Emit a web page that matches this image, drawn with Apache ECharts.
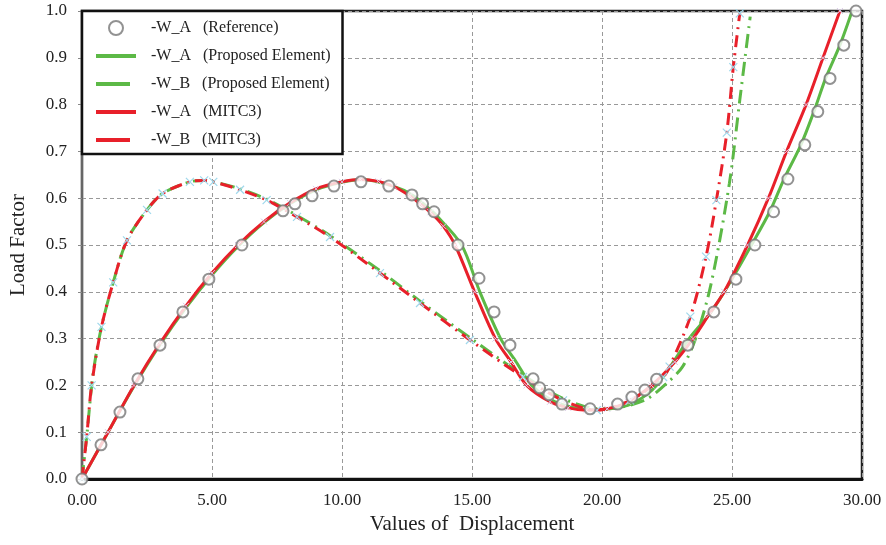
<!DOCTYPE html>
<html>
<head>
<meta charset="utf-8">
<script src="https://cdn.jsdelivr.net/npm/echarts@6/dist/echarts.min.js"></script>
<style>
  body{margin:0;background:#fff;}
  #main{width:886px;height:545px;}
</style>
</head>
<body>
<div id="main"></div>
<script>
// reference circles (W_A)
var refX = [0, 0.73, 1.46, 2.15, 3.0, 3.88, 4.88, 6.15, 7.73, 8.19, 8.85, 9.69, 10.73, 11.8, 12.69, 13.1, 13.54,
  14.46, 15.27, 15.85, 16.46, 17.35, 17.6, 17.96, 18.46, 19.54, 20.6, 21.15, 21.65, 22.1, 23.3, 24.3, 25.15,
  25.88, 26.6, 27.15, 27.8, 28.3, 28.77, 29.3, 29.77];
var refY = [0, 0.073, 0.143, 0.214, 0.286, 0.357, 0.427, 0.5, 0.573, 0.588, 0.605, 0.626, 0.635, 0.626, 0.607, 0.588, 0.571,
  0.5, 0.429, 0.357, 0.286, 0.214, 0.195, 0.18, 0.16, 0.15, 0.16, 0.175, 0.19, 0.213, 0.286, 0.357, 0.427,
  0.5, 0.571, 0.641, 0.714, 0.785, 0.856, 0.927, 1.0];

// proposed element W_A
var propAX = [0, 1, 2, 3, 4, 5, 6, 7, 8, 9, 10, 10.8, 12, 12.7, 13.2, 13.6, 14.6, 15.3, 16.1, 16.7, 17.3, 18.2,
  19.6, 20.6, 21.3, 22.1, 23.35, 24.2, 25.0, 25.75, 26.45, 27.0, 27.65, 28.15, 28.6, 29.15, 29.62];
var propAY = [0, 0.1, 0.198, 0.287, 0.366, 0.436, 0.497, 0.548, 0.588, 0.618, 0.634, 0.64, 0.625, 0.607, 0.585, 0.565, 0.5, 0.4, 0.3, 0.25, 0.2, 0.165,
  0.148, 0.152, 0.165, 0.2, 0.3, 0.357, 0.427, 0.5, 0.571, 0.641, 0.714, 0.785, 0.856, 0.927, 1.0];

// proposed element W_B
var propBX = [0, 0.18, 0.43, 0.75, 1.2, 1.73, 2.5, 3.1, 4.15, 4.7, 5.05, 6.08, 7.1, 8.27, 9.54, 11.46, 13.0, 14.92,
  16.96, 18.5, 19.9, 20.6, 21.7, 22.5, 23.1, 23.6, 24.2, 24.9, 25.3, 25.7];
var propBY = [0, 0.09, 0.226, 0.325, 0.42, 0.51, 0.575, 0.61, 0.635, 0.638, 0.635, 0.62, 0.598, 0.563, 0.52, 0.445, 0.38, 0.302,
  0.222, 0.172, 0.15, 0.152, 0.17, 0.205, 0.24, 0.3, 0.418, 0.632, 0.81, 0.988];

// MITC3 W_A
var mitcAX = [0, 1, 2, 3, 4, 5, 6, 7, 8, 9, 10, 10.7, 11.4, 12, 12.6, 13, 13.4, 13.9, 14.35, 15.1, 15.9, 16.5, 17.1,
  18, 18.7, 19.4, 20.2, 21, 21.9, 22.8, 23.5, 24.1, 24.7, 25.6, 26.4, 27.1, 27.85, 28.5, 29.15];
var mitcAY = [0, 0.1, 0.2, 0.29, 0.37, 0.44, 0.5, 0.55, 0.59, 0.62, 0.635, 0.64, 0.636, 0.625, 0.605, 0.588, 0.57, 0.54, 0.5, 0.4, 0.3, 0.25, 0.2,
  0.165, 0.152, 0.147, 0.15, 0.165, 0.2, 0.25, 0.3, 0.35, 0.4, 0.5, 0.6, 0.7, 0.8, 0.9, 1.0];

// MITC3 W_B
var mitcBX = [0, 0.18, 0.37, 0.75, 1.2, 1.73, 2.5, 3.1, 4.15, 4.7, 5.05, 6.08, 7.1, 8.27, 9.54, 11.46, 13.0, 14.92,
  16.96, 18.5, 19.8, 21.08, 22.35, 22.6, 23.4, 24.0, 24.4, 24.8, 25.05, 25.3];
var mitcBY = [0, 0.09, 0.2, 0.325, 0.42, 0.51, 0.575, 0.61, 0.635, 0.638, 0.635, 0.618, 0.596, 0.56, 0.517, 0.44, 0.376, 0.297,
  0.218, 0.168, 0.147, 0.168, 0.218, 0.24, 0.347, 0.475, 0.596, 0.74, 0.88, 0.995];

var legendNames = ['-W_A   (Reference)', '-W_A   (Proposed Element)', '-W_B   (Proposed Element)',
  '-W_A   (MITC3)', '-W_B   (MITC3)'];

function pairs(xs, ys){
  return xs.map(function(x, i){ return [x, ys[i]]; });
}

var xMark = 'path://M0 0L10 10M10 0L0 10';
var longIcon = 'path://M0 0M0 5H40V9H0Z M40 14';
var shortIcon = 'path://M0 0M0 5H34V9H0Z M40 14';
var fontFam = '"Liberation Serif", "DejaVu Serif", serif';
var green = '#5cb946', red = '#e8202a';

var chart = echarts.init(document.getElementById('main'));
chart.setOption({
  animation: false,
  textStyle: {fontFamily: fontFam},
  grid: {left: 82, right: 24, top: 11, bottom: 66, show: true, borderColor: '#222', borderWidth: 2.5,
    outerBoundsMode: 'none'},
  legend: {
    data: [
      {name: legendNames[0]},
      {name: legendNames[1], icon: longIcon, itemStyle: {color: green}},
      {name: legendNames[2], icon: shortIcon, itemStyle: {color: green}},
      {name: legendNames[3], icon: longIcon, itemStyle: {color: red, borderWidth: 0}},
      {name: legendNames[4], icon: shortIcon, itemStyle: {color: red, borderWidth: 0}}
    ],
    orient: 'vertical',
    left: 82,
    top: 11,
    padding: [9, 12, 6, 14],
    itemGap: 12,
    itemWidth: 40,
    itemHeight: 14,
    backgroundColor: '#fff',
    borderColor: '#111',
    borderWidth: 2.5,
    borderRadius: 0,
    textStyle: {fontFamily: fontFam, fontSize: 16, color: '#222', padding: [0, 0, 0, 10]}
  },
  xAxis: {
    type: 'value',
    min: 0, max: 30, interval: 5,
    name: 'Values of  Displacement',
    nameLocation: 'middle',
    nameGap: 30,
    nameTextStyle: {fontFamily: fontFam, fontSize: 21, color: '#222'},
    axisLine: {show: true, onZero: false, lineStyle: {color: '#111', width: 3}},
    axisTick: {show: false},
    axisLabel: {fontFamily: fontFam, fontSize: 17, color: '#222', margin: 13,
      formatter: function(v){ return v.toFixed(2); }},
    splitLine: {show: true, lineStyle: {color: '#999', type: [4, 3], width: 1}}
  },
  yAxis: {
    type: 'value',
    min: 0, max: 1, interval: 0.1,
    name: 'Load Factor',
    nameLocation: 'middle',
    nameGap: 53,
    nameRotate: 90,
    nameTextStyle: {fontFamily: fontFam, fontSize: 21, color: '#222'},
    axisLine: {show: true, onZero: false, lineStyle: {color: '#666', width: 2}},
    axisTick: {show: true, length: 4, lineStyle: {color: '#888'}},
    axisLabel: {fontFamily: fontFam, fontSize: 17, color: '#222', margin: 15,
      formatter: function(v){ return v.toFixed(1); }},
    splitLine: {show: true, lineStyle: {color: '#999', type: [4, 3], width: 1}}
  },
  series: [
    {
      name: legendNames[1],
      type: 'line',
      data: pairs(propAX, propAY),
      smooth: 0.3,
      showSymbol: false,
      symbol: 'none',
      itemStyle: {color: green},
      lineStyle: {color: green, width: 3},
      z: 2
    },
    {
      name: legendNames[2],
      type: 'line',
      data: pairs(propBX, propBY),
      smooth: 0.3,
      showSymbol: false,
      symbol: 'none',
      itemStyle: {color: green},
      lineStyle: {color: green, width: 3, type: [14, 6, 2, 6]},
      z: 2
    },
    {
      name: legendNames[3],
      type: 'line',
      data: pairs(mitcAX, mitcAY),
      smooth: 0.3,
      symbol: xMark,
      symbolSize: 6,
      showSymbol: true,
      itemStyle: {color: 'rgba(0,0,0,0)', borderColor: '#d9c8e6', borderWidth: 1},
      lineStyle: {color: red, width: 3},
      z: 3
    },
    {
      name: legendNames[4],
      type: 'line',
      data: pairs(mitcBX, mitcBY),
      smooth: 0.3,
      symbol: xMark,
      symbolSize: 8,
      showSymbol: true,
      itemStyle: {color: 'rgba(0,0,0,0)', borderColor: '#9fd8ec', borderWidth: 1.2},
      lineStyle: {color: red, width: 3, type: [12, 6, 2, 6]},
      z: 3
    },
    {
      name: legendNames[0],
      type: 'scatter',
      data: pairs(refX, refY),
      symbol: 'emptyCircle',
      symbolSize: 11,
      clip: false,
      itemStyle: {color: '#777', borderColor: '#777', borderWidth: 2.5},
      z: 5
    }
  ]
});
</script>
</body>
</html>
